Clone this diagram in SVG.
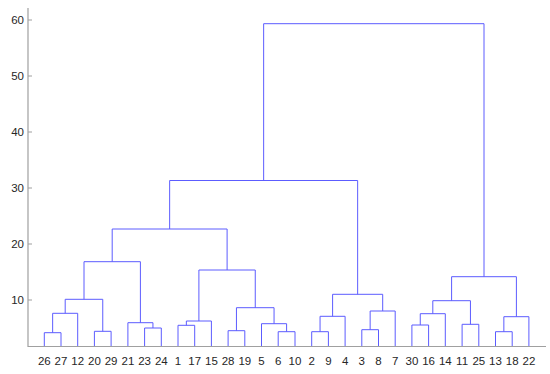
<svg xmlns="http://www.w3.org/2000/svg" width="550" height="374" viewBox="0 0 550 374">
<style>
  .ax { stroke: #a0a0a0; stroke-width: 1.2; fill: none; }
  .lnk { stroke: #5c5cff; stroke-width: 1; fill: none; }
  .t { font-family: "Liberation Sans", Arial, sans-serif; font-size: 11.5px; fill: #262626; }
  .yl { text-anchor: end; }
  .xl { text-anchor: middle; }
</style>
<rect width="550" height="374" fill="#ffffff"/>
<g id="axes">
  <path class="ax" d="M28 8 V346.5 H546"/>
  <path class="ax" d="M28 20 H32 M28 76 H32 M28 132 H32 M28 188 H32 M28 244 H32 M28 300 H32"/>
  <g class="t yl">
    <text x="24" y="24">60</text>
    <text x="24" y="80">50</text>
    <text x="24" y="136">40</text>
    <text x="24" y="192">30</text>
    <text x="24" y="248">20</text>
    <text x="24" y="304">10</text>
  </g>
</g>
<g id="leaves" class="t xl">
  <text x="44.3" y="364.5">26</text>
  <text x="61.0" y="364.5">27</text>
  <text x="77.7" y="364.5">12</text>
  <text x="94.4" y="364.5">20</text>
  <text x="111.1" y="364.5">29</text>
  <text x="127.9" y="364.5">21</text>
  <text x="144.6" y="364.5">23</text>
  <text x="161.3" y="364.5">24</text>
  <text x="178.0" y="364.5">1</text>
  <text x="194.7" y="364.5">17</text>
  <text x="211.4" y="364.5">15</text>
  <text x="228.1" y="364.5">28</text>
  <text x="244.8" y="364.5">19</text>
  <text x="261.5" y="364.5">5</text>
  <text x="278.2" y="364.5">6</text>
  <text x="295.0" y="364.5">10</text>
  <text x="311.7" y="364.5">2</text>
  <text x="328.4" y="364.5">9</text>
  <text x="345.1" y="364.5">4</text>
  <text x="361.8" y="364.5">3</text>
  <text x="378.5" y="364.5">8</text>
  <text x="395.2" y="364.5">7</text>
  <text x="411.9" y="364.5">30</text>
  <text x="428.6" y="364.5">16</text>
  <text x="445.3" y="364.5">14</text>
  <text x="462.1" y="364.5">11</text>
  <text x="478.8" y="364.5">25</text>
  <text x="495.5" y="364.5">13</text>
  <text x="512.2" y="364.5">18</text>
  <text x="528.9" y="364.5">22</text>
</g>
<g id="connectors" class="lnk">
  <path d="M44.3 346 V332.7 H61 V346"/>
  <path d="M52.65 332.7 V313.3 H77.7 V346"/>
  <path d="M94.4 346 V331.3 H111.1 V346"/>
  <path d="M65.2 313.3 V299.3 H102.75 V331.3"/>
  <path d="M144.6 346 V328 H161.3 V346"/>
  <path d="M127.9 346 V322.7 H152.95 V328"/>
  <path d="M84 299.3 V261.7 H140.4 V322.7"/>
  <path d="M178 346 V325.3 H194.7 V346"/>
  <path d="M186.35 325.3 V321 H211.4 V346"/>
  <path d="M228.1 346 V330.7 H244.8 V346"/>
  <path d="M278.2 346 V331.7 H295 V346"/>
  <path d="M261.5 346 V323.7 H286.6 V331.7"/>
  <path d="M236.45 330.7 V307.7 H274.05 V323.7"/>
  <path d="M198.9 321 V270 H255.25 V307.7"/>
  <path d="M112.2 261.7 V229 H227.1 V270"/>
  <path d="M311.7 346 V331.7 H328.4 V346"/>
  <path d="M320.05 331.7 V316.3 H345.1 V346"/>
  <path d="M361.8 346 V329.7 H378.5 V346"/>
  <path d="M370.15 329.7 V311 H395.2 V346"/>
  <path d="M332.6 316.3 V294.3 H382.7 V311"/>
  <path d="M169.65 229 V180.5 H357.65 V294.3"/>
  <path d="M411.9 346 V325 H428.6 V346"/>
  <path d="M420.25 325 V313.7 H445.3 V346"/>
  <path d="M462.1 346 V324.3 H478.8 V346"/>
  <path d="M432.8 313.7 V300.7 H470.45 V324.3"/>
  <path d="M495.5 346 V331.7 H512.2 V346"/>
  <path d="M503.85 331.7 V316.7 H528.9 V346"/>
  <path d="M451.6 300.7 V276.7 H516.4 V316.7"/>
  <path d="M263.65 180.5 V23.7 H484 V276.7"/>
</g>
</svg>
